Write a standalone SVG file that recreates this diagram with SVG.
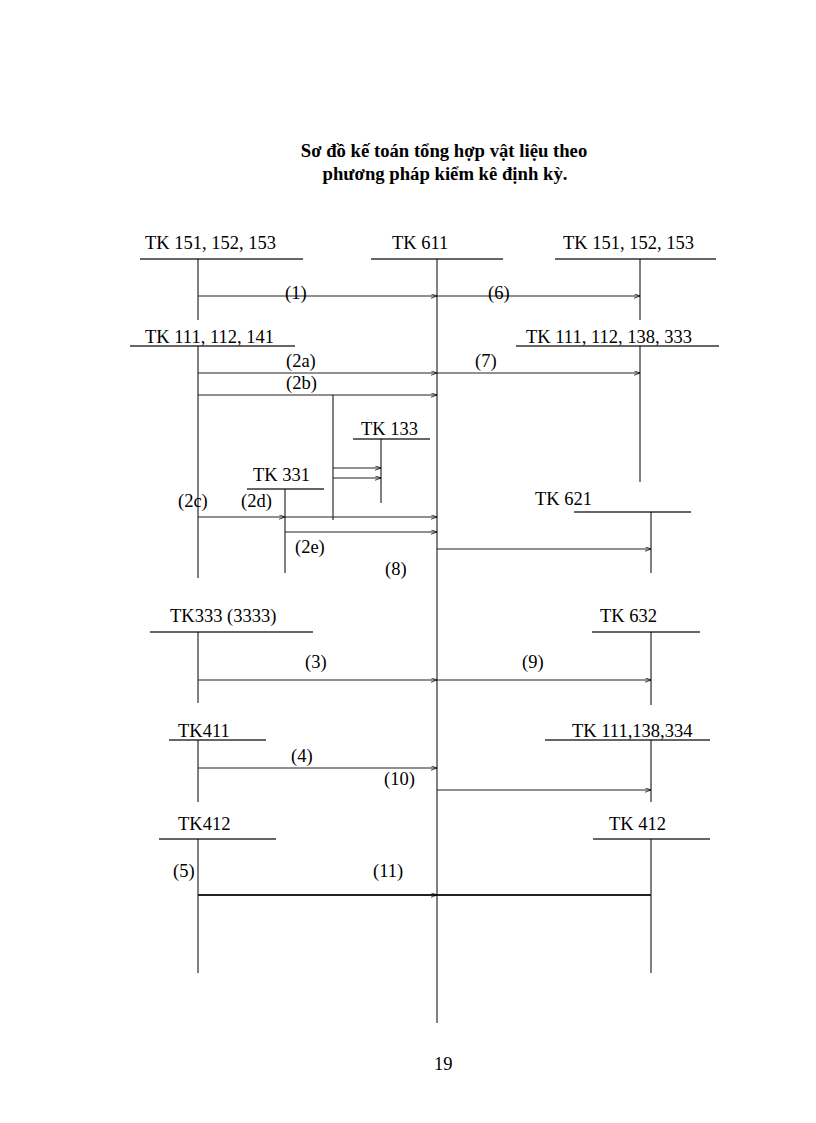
<svg xmlns="http://www.w3.org/2000/svg" width="816" height="1123" viewBox="0 0 816 1123">
<style>
text{font-family:"Liberation Serif","Times New Roman",serif;fill:#000}
.t{font-size:18.5px}
.h{font-size:18.7px;font-weight:bold}
.u{stroke:#333;stroke-width:1.6;fill:none}
.v{stroke:#000;stroke-width:1;fill:none}
.a{stroke:#222;stroke-width:1.2;fill:none;marker-end:url(#ar)}
</style>
<defs>
<marker id="ar" viewBox="0 0 8 6" refX="8" refY="3" markerWidth="6" markerHeight="5" markerUnits="userSpaceOnUse" orient="auto">
<path d="M0,0 L8,3 L0,6" fill="none" stroke="#000" stroke-width="1"/>
</marker>
</defs>
<rect width="816" height="1123" fill="#fff"/>
<g id="title">
<text class="h" x="444" y="157" text-anchor="middle">Sơ đồ kế toán tổng hợp vật liệu theo</text>
<text class="h" x="445" y="180" text-anchor="middle">phương pháp kiểm kê định kỳ.</text>
</g>
<g id="tk151L"><text class="t" x="145" y="249">TK 151, 152, 153</text><line class="u" x1="140" y1="259" x2="303" y2="259"/><line class="v" x1="198" y1="259" x2="198" y2="320"/></g>
<g id="tk611"><text class="t" x="392" y="249">TK 611</text><line class="u" x1="371" y1="259" x2="503" y2="259"/><line class="v" x1="437" y1="259" x2="437" y2="1023"/></g>
<g id="tk151R"><text class="t" x="563" y="249">TK 151, 152, 153</text><line class="u" x1="555" y1="259" x2="716" y2="259"/><line class="v" x1="640" y1="259" x2="640" y2="320"/></g>
<g id="tk111L"><text class="t" x="145" y="343">TK 111, 112, 141</text><line class="u" x1="130" y1="346" x2="295" y2="346"/><line class="v" x1="198" y1="346" x2="198" y2="578"/></g>
<g id="tk111R"><text class="t" x="526" y="343">TK 111, 112, 138, 333</text><line class="u" x1="516" y1="346" x2="719" y2="346"/><line class="v" x1="640" y1="346" x2="640" y2="482"/></g>
<g id="tk133"><text class="t" x="361" y="435">TK 133</text><line class="u" x1="353" y1="439" x2="430" y2="439"/><line class="v" x1="381" y1="439" x2="381" y2="503"/></g>
<g id="tk331"><text class="t" x="253" y="481">TK 331</text><line class="u" x1="247" y1="489" x2="324" y2="489"/><line class="v" x1="285" y1="489" x2="285" y2="573"/></g>
<g id="tk621"><text class="t" x="535" y="505">TK 621</text><line class="u" x1="574" y1="512" x2="691" y2="512"/><line class="v" x1="651" y1="512" x2="651" y2="573"/></g>
<g id="tk333"><text class="t" x="170" y="622">TK333 (3333)</text><line class="u" x1="150" y1="632" x2="313" y2="632"/><line class="v" x1="198" y1="632" x2="198" y2="703"/></g>
<g id="tk632"><text class="t" x="600" y="622">TK 632</text><line class="u" x1="592" y1="632" x2="700" y2="632"/><line class="v" x1="651" y1="632" x2="651" y2="705"/></g>
<g id="tk411"><text class="t" x="178" y="737">TK411</text><line class="u" x1="169" y1="740" x2="266" y2="740"/><line class="v" x1="198" y1="740" x2="198" y2="802"/></g>
<g id="tk111b"><text class="t" x="572" y="737">TK 111,138,334</text><line class="u" x1="545" y1="740" x2="710" y2="740"/><line class="v" x1="651" y1="740" x2="651" y2="802"/></g>
<g id="tk412L"><text class="t" x="178" y="830">TK412</text><line class="u" x1="159" y1="839" x2="276" y2="839"/><line class="v" x1="198" y1="839" x2="198" y2="973"/></g>
<g id="tk412R"><text class="t" x="609" y="830">TK 412</text><line class="u" x1="593" y1="839" x2="710" y2="839"/><line class="v" x1="651" y1="839" x2="651" y2="973"/></g>
<g id="connectors">
<line class="a" x1="198" y1="296" x2="437" y2="296"/>
<line class="a" x1="437" y1="296" x2="640" y2="296"/>
<line class="a" x1="198" y1="373" x2="437" y2="373"/>
<line class="a" x1="437" y1="373" x2="640" y2="373"/>
<line class="a" x1="198" y1="395" x2="437" y2="395"/>
<line class="v" x1="333" y1="395" x2="333" y2="520"/>
<line class="a" x1="333" y1="468" x2="381" y2="468"/>
<line class="a" x1="333" y1="478" x2="381" y2="478"/>
<line class="a" x1="198" y1="517" x2="285" y2="517"/>
<line class="a" x1="285" y1="517" x2="437" y2="517"/>
<line class="a" x1="285" y1="532" x2="437" y2="532"/>
<line class="a" x1="437" y1="549" x2="651" y2="549"/>
<line class="a" x1="198" y1="680" x2="437" y2="680"/>
<line class="a" x1="437" y1="680" x2="651" y2="680"/>
<line class="a" x1="198" y1="768" x2="437" y2="768"/>
<line class="a" x1="437" y1="790" x2="651" y2="790"/>
<line class="a" x1="198" y1="895" x2="437" y2="895" style="stroke-width:1.8"/>
<line class="v" x1="437" y1="895" x2="651" y2="895" style="stroke-width:1.8;stroke:#222"/>
</g>
<g id="labels">
<text class="t" x="285" y="299">(1)</text>
<text class="t" x="488" y="299">(6)</text>
<text class="t" x="286" y="367">(2a)</text>
<text class="t" x="475" y="367">(7)</text>
<text class="t" x="286" y="389">(2b)</text>
<text class="t" x="178" y="507">(2c)</text>
<text class="t" x="241" y="507">(2d)</text>
<text class="t" x="295" y="553">(2e)</text>
<text class="t" x="385" y="575">(8)</text>
<text class="t" x="305" y="668">(3)</text>
<text class="t" x="522" y="668">(9)</text>
<text class="t" x="291" y="762">(4)</text>
<text class="t" x="384" y="785">(10)</text>
<text class="t" x="173" y="877">(5)</text>
<text class="t" x="373" y="877">(11)</text>
<text class="t" x="434" y="1070">19</text>
</g>
</svg>
